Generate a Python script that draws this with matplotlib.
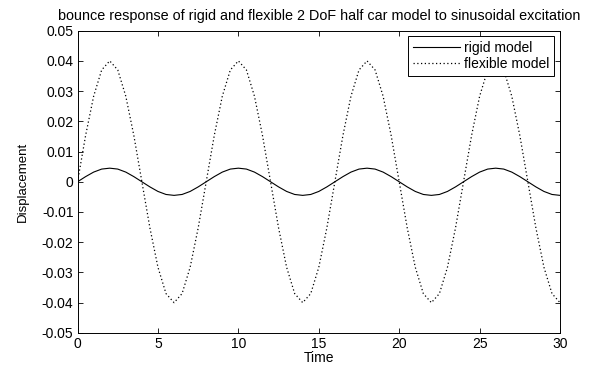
import numpy as np
import matplotlib.pyplot as plt

plt.rcParams.update({
    "font.family": ["Liberation Sans", "DejaVu Sans"],
    "font.size": 10,
    "xtick.direction": "in",
    "ytick.direction": "in",
    "xtick.top": True,
    "ytick.right": True,
})

# sampled every 0.5 time units
time = [i * 0.5 for i in range(61)]

rigid = [
    0.0, 0.0017, 0.0032, 0.0042, 0.0045, 0.0042, 0.0032, 0.0017,
    0.0, -0.0017, -0.0032, -0.0042, -0.0045, -0.0042, -0.0032, -0.0017,
    0.0, 0.0017, 0.0032, 0.0042, 0.0045, 0.0042, 0.0032, 0.0017,
    0.0, -0.0017, -0.0032, -0.0042, -0.0045, -0.0042, -0.0032, -0.0017,
    0.0, 0.0017, 0.0032, 0.0042, 0.0045, 0.0042, 0.0032, 0.0017,
    0.0, -0.0017, -0.0032, -0.0042, -0.0045, -0.0042, -0.0032, -0.0017,
    0.0, 0.0017, 0.0032, 0.0042, 0.0045, 0.0042, 0.0032, 0.0017,
    0.0, -0.0017, -0.0032, -0.0042, -0.0045,
]

flexible = [
    0.0, 0.0153, 0.0283, 0.0370, 0.0400, 0.0370, 0.0283, 0.0153,
    0.0, -0.0153, -0.0283, -0.0370, -0.0400, -0.0370, -0.0283, -0.0153,
    0.0, 0.0153, 0.0283, 0.0370, 0.0400, 0.0370, 0.0283, 0.0153,
    0.0, -0.0153, -0.0283, -0.0370, -0.0400, -0.0370, -0.0283, -0.0153,
    0.0, 0.0153, 0.0283, 0.0370, 0.0400, 0.0370, 0.0283, 0.0153,
    0.0, -0.0153, -0.0283, -0.0370, -0.0400, -0.0370, -0.0283, -0.0153,
    0.0, 0.0153, 0.0283, 0.0370, 0.0400, 0.0370, 0.0283, 0.0153,
    0.0, -0.0153, -0.0283, -0.0370, -0.0400,
]

x_ticks = [0, 5, 10, 15, 20, 25, 30]
y_ticks = [-0.05, -0.04, -0.03, -0.02, -0.01, 0, 0.01, 0.02, 0.03, 0.04, 0.05]
y_tick_labels = ["-0.05", "-0.04", "-0.03", "-0.02", "-0.01", "0",
                 "0.01", "0.02", "0.03", "0.04", "0.05"]

fig = plt.figure(figsize=(5.92, 3.65), dpi=100)
ax = fig.add_axes([0.131, 0.088, 0.815, 0.828])

ax.plot(time, rigid, color="black", linewidth=0.8, label="rigid model")
ax.plot(time, flexible, color="black", linewidth=0.9, linestyle=(0, (1, 2)),
        label="flexible model")

ax.set_xlim(0, 30)
ax.set_ylim(-0.05, 0.05)
ax.set_xticks(x_ticks)
ax.set_yticks(y_ticks)
ax.set_yticklabels(y_tick_labels)
ax.tick_params(length=3.5, width=0.6)
ax.tick_params(axis="x", pad=3)
ax.tick_params(axis="y", pad=3)
for spine in ax.spines.values():
    spine.set_linewidth(0.7)

ax.set_title("bounce response of rigid and flexible 2 DoF half car model to sinusoidal excitation",
             fontsize=10.4, pad=8)
ax.set_xlabel("Time", fontsize=10, labelpad=0)
ax.set_ylabel("Displacement", fontsize=9.5, labelpad=9)

leg = ax.legend(loc="upper right", fancybox=False, framealpha=1, edgecolor="black",
                handlelength=3.4, handletextpad=0.3, borderaxespad=0.4, borderpad=0.35,
                labelspacing=0.15, fontsize=10)
leg.get_frame().set_linewidth(0.7)

fig.savefig("out.png", dpi=100)
